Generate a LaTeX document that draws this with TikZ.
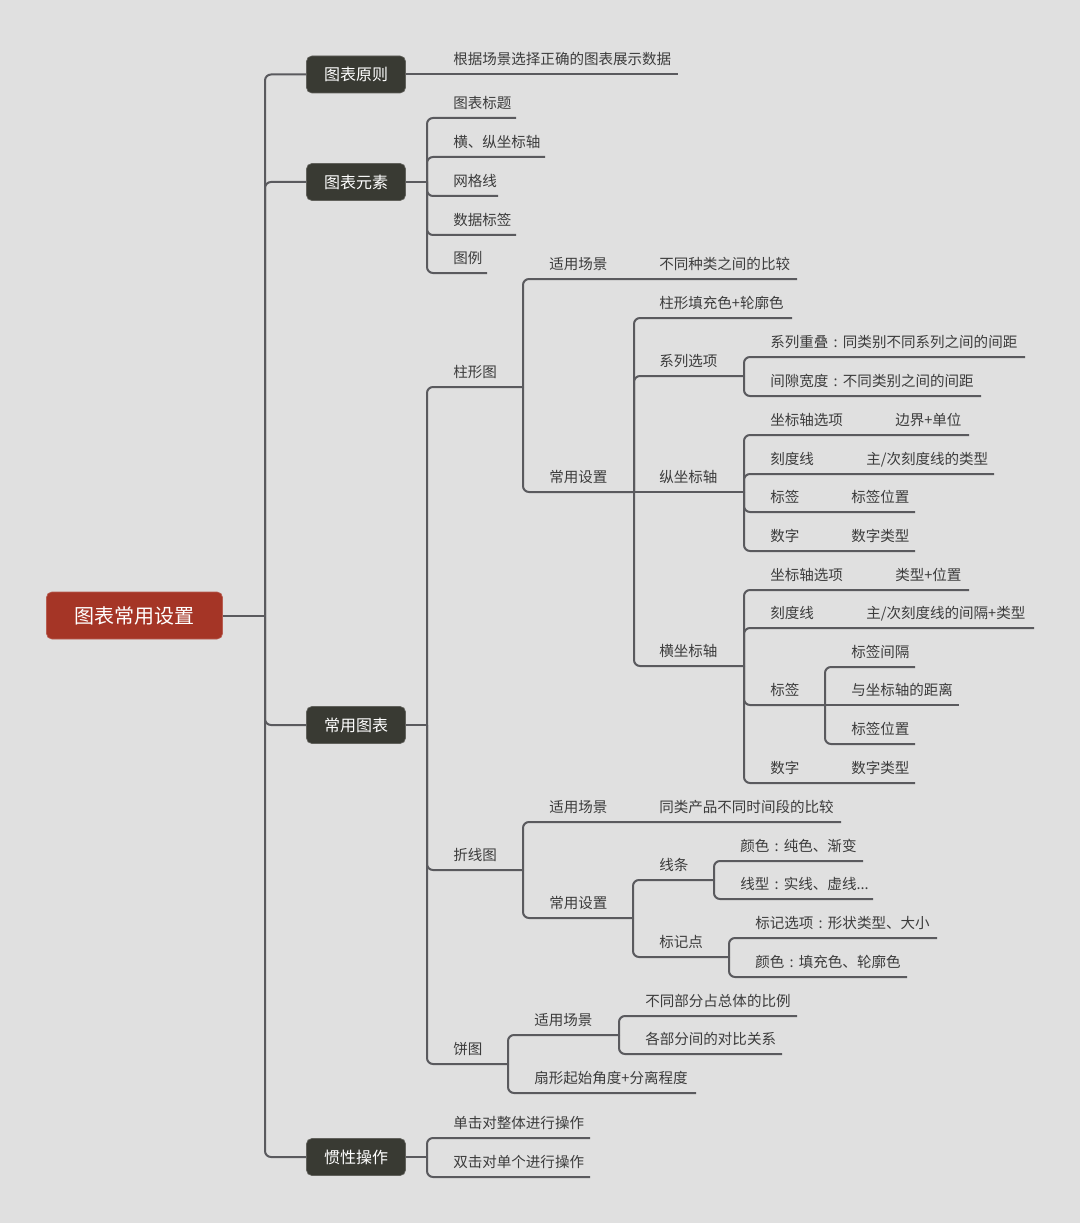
\documentclass[tikz,border=0pt]{standalone}
\usepackage{fontspec}
\newfontfamily\cjk{Noto Sans CJK SC}
\definecolor{bg}{HTML}{E0E0E0}
\definecolor{linec}{HTML}{5A5A5E}
\definecolor{txt}{HTML}{3C3C3C}
\definecolor{boxc}{HTML}{393A33}
\definecolor{rootc}{HTML}{A53526}
\newcommand\tp[4]{\node[lbl] (#1) at (#2,#3-9.5) {#4};}
\newcommand\fc{\makebox[1em][c]{:}}
\begin{document}
\begin{tikzpicture}[x=0.75pt,y=-0.75pt,
  conn/.style={draw=linec, line width=1.5pt, rounded corners=4.5pt},
  lbl/.style={anchor=base west, inner sep=0pt, text=txt, font=\cjk\fontsize{10.9}{13}\selectfont},
  box/.style={fill=boxc, draw=boxc!80!white, line width=0.5pt, rounded corners=4pt, text=white, minimum width=74.25pt, minimum height=27.75pt, inner sep=0pt, font=\cjk\fontsize{12}{14}\selectfont},
  rootbox/.style={box, fill=rootc, draw=rootc!80!white, minimum width=132pt, minimum height=35.25pt, font=\cjk\fontsize{15}{18}\selectfont},
]
\fill[bg] (0,0) rectangle (1080,1223);
\useasboundingbox (0,0) rectangle (1080,1223);

% main boxes
\node[rootbox] (root) at (134.5,615.5) {图表常用设置};
\node[box] (b1) at (356,74.5) {图表原则};
\node[box] (b2) at (356,182) {图表元素};
\node[box] (b3) at (356,725) {常用图表};
\node[box] (b4) at (356,1157) {惯性操作};
\coordinate (S) at (265,615.5);

% b1
\tp{t11}{453}{74}{根据场景选择正确的图表展示数据}
\coordinate (e11) at (678,74.5);

% b2
\coordinate (j2) at (427,182);
\tp{t21}{453}{118}{图表标题}      \coordinate (e21) at (516,118);
\tp{t22}{453}{157}{横、纵坐标轴}  \coordinate (e22) at (545,157);
\tp{t23}{453}{196}{网格线}        \coordinate (e23) at (498,196);
\tp{t24}{453}{235}{数据标签}      \coordinate (e24) at (516,235);
\tp{t25}{453}{273}{图例}          \coordinate (e25) at (487,273);

% b3
\coordinate (j3) at (427,725);
% bar chart
\tp{tbar}{453}{387}{柱形图}   \coordinate (ebar) at (523,387);
\tp{tbs}{549}{279}{适用场景}
\tp{tbsv}{659}{279}{不同种类之间的比较} \coordinate (ebs) at (797,279);
\tp{tbc}{549}{492}{常用设置}  \coordinate (ebc) at (634,492);
\tp{tfill}{659}{318}{柱形填充色+轮廓色} \coordinate (efill) at (792,318);
\tp{tser}{659}{376}{系列选项} \coordinate (eser) at (744,376);
\tp{tov}{770}{357}{系列重叠\fc 同类别不同系列之间的间距} \coordinate (eov) at (1025,357);
\tp{tgap}{770}{396}{间隙宽度\fc 不同类别之间的间距} \coordinate (egap) at (981,396);
\tp{tvax}{659}{492}{纵坐标轴} \coordinate (evax) at (744,492);
\tp{tva1}{770}{435}{坐标轴选项} \tp{tva1b}{895}{435}{边界+单位} \coordinate (eva1) at (969,435);
\tp{tva2}{770}{474}{刻度线} \tp{tva2b}{866}{474}{主/次刻度线的类型} \coordinate (eva2) at (994,474);
\tp{tva3}{770}{512}{标签} \tp{tva3b}{851}{512}{标签位置} \coordinate (eva3) at (915,512);
\tp{tva4}{770}{551}{数字} \tp{tva4b}{851}{551}{数字类型} \coordinate (eva4) at (915,551);
\tp{thax}{659}{666}{横坐标轴} \coordinate (ehax) at (744,666);
\tp{tha1}{770}{590}{坐标轴选项} \tp{tha1b}{895}{590}{类型+位置} \coordinate (eha1) at (969,590);
\tp{tha2}{770}{628}{刻度线} \tp{tha2b}{866}{628}{主/次刻度线的间隔+类型} \coordinate (eha2) at (1034,628);
\tp{tha3}{770}{705}{标签} \coordinate (eha3) at (825,705);
\tp{tl1}{851}{667}{标签间隔} \coordinate (el1) at (915,667);
\tp{tl2}{851}{705}{与坐标轴的距离} \coordinate (el2) at (959,705);
\tp{tl3}{851}{744}{标签位置} \coordinate (el3) at (915,744);
\tp{tha4}{770}{783}{数字} \tp{tha4b}{851}{783}{数字类型} \coordinate (eha4) at (915,783);
% line chart
\tp{tline}{453}{870}{折线图} \coordinate (eline) at (523,870);
\tp{tls}{549}{822}{适用场景}
\tp{tlsv}{659}{822}{同类产品不同时间段的比较} \coordinate (els) at (841,822);
\tp{tlc}{549}{918}{常用设置} \coordinate (elc) at (633,918);
\tp{tstroke}{659}{880}{线条} \coordinate (estroke) at (714,880);
\tp{tsc}{740}{861}{颜色\fc 纯色、渐变} \coordinate (esc) at (863,861);
\tp{tst}{740}{899}{线型\fc 实线、虚线...} \coordinate (est) at (873,899);
\tp{tmark}{659}{957}{标记点} \coordinate (emark) at (729,957);
\tp{tmo}{755}{938}{标记选项\fc 形状类型、大小} \coordinate (emo) at (937,938);
\tp{tmc}{755}{977}{颜色\fc 填充色、轮廓色} \coordinate (emc) at (907,977);
% pie chart
\tp{tpie}{453}{1064}{饼图} \coordinate (epie) at (508,1064);
\tp{tps}{534}{1035}{适用场景} \coordinate (eps) at (619,1035);
\tp{tp1}{645}{1016}{不同部分占总体的比例} \coordinate (ep1) at (797,1016);
\tp{tp2}{645}{1054}{各部分间的对比关系} \coordinate (ep2) at (782,1054);
\tp{tpa}{534}{1093}{扇形起始角度+分离程度} \coordinate (epa) at (696,1093);

% b4
\coordinate (j4) at (427,1157);
\tp{tc1}{453}{1138}{单击对整体进行操作} \coordinate (ec1) at (590,1138);
\tp{tc2}{453}{1177}{双击对单个进行操作} \coordinate (ec2) at (590,1177);

% connectors
\draw[conn] (root.east) -- (S);
\foreach \b in {b1,b2,b3,b4} \draw[conn] (S) |- (\b.west);
\draw[conn] (b1.east) -- (e11);
\draw[conn] (b2.east) -- (j2);
\foreach \e in {e21,e22,e23,e24,e25} \draw[conn] (j2) |- (\e);
\draw[conn] (b3.east) -- (j3);
\foreach \e in {ebar,eline,epie} \draw[conn] (j3) |- (\e);
\foreach \e in {ebs,ebc} \draw[conn] (ebar) |- (\e);
\foreach \e in {efill,eser,ehax} \draw[conn] (ebc) |- (\e);
\draw[conn] (ebc) -- (evax);
\foreach \e in {eov,egap} \draw[conn] (eser) |- (\e);
\foreach \e in {eva1,eva2,eva3,eva4} \draw[conn] (evax) |- (\e);
\foreach \e in {eha1,eha2,eha3,eha4} \draw[conn] (ehax) |- (\e);
\foreach \e in {el1,el3} \draw[conn] (eha3) |- (\e);
\draw[conn] (eha3) -- (el2);
\foreach \e in {els,elc} \draw[conn] (eline) |- (\e);
\foreach \e in {estroke,emark} \draw[conn] (elc) |- (\e);
\foreach \e in {esc,est} \draw[conn] (estroke) |- (\e);
\foreach \e in {emo,emc} \draw[conn] (emark) |- (\e);
\foreach \e in {eps,epa} \draw[conn] (epie) |- (\e);
\foreach \e in {ep1,ep2} \draw[conn] (eps) |- (\e);
\draw[conn] (b4.east) -- (j4);
\foreach \e in {ec1,ec2} \draw[conn] (j4) |- (\e);
\end{tikzpicture}
\end{document}
